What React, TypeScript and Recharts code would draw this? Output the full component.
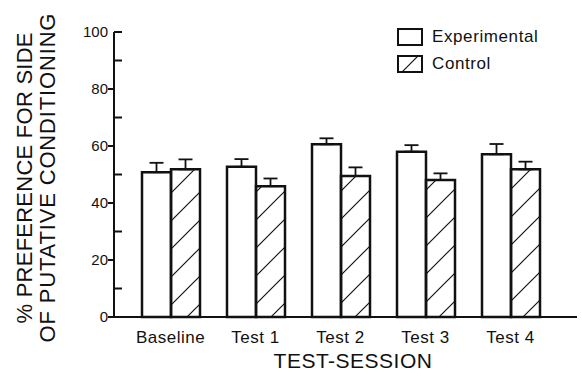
import { BarChart, Bar, XAxis, YAxis, ErrorBar, Legend } from "recharts";

const sessions = ["Baseline", "Test 1", "Test 2", "Test 3", "Test 4"];
const experimental = [50.8, 52.7, 60.6, 58.0, 57.1];
const experimentalErr = [3.3, 2.7, 2.1, 2.3, 3.6];
const control = [51.8, 45.9, 49.5, 48.1, 51.8];
const controlErr = [3.5, 2.7, 3.0, 2.3, 2.7];
const seriesNames = ["Experimental", "Control"];

const majorTicks = [0, 20, 40, 60, 80, 100];
const minorTicks = [10, 30, 50, 70, 90];
const allTicks = [...majorTicks, ...minorTicks].sort((a, b) => a - b);

const data = sessions.map((s, i) => ({
  session: s,
  experimental: experimental[i],
  control: control[i],
  expErr: [0, experimentalErr[i]],
  ctrlErr: [0, controlErr[i]],
}));

const FONT = '"Liberation Sans", Arial, Helvetica, sans-serif';
const INK = "#111";

const YTick = (props: any) => {
  const { x, y, payload } = props;
  const v = payload.value;
  const inward = minorTicks.includes(v) || v === 100;
  return (
    <g>
      {inward ? (
        <line x1={x} x2={x + 8} y1={y} y2={y} stroke={INK} strokeWidth={2} />
      ) : (
        <line x1={x - 6} x2={x} y1={y} y2={y} stroke={INK} strokeWidth={2} />
      )}
      {majorTicks.includes(v) && (
        <text x={x - 6} y={y} dy="0.35em" textAnchor="end" fontSize={15} fontFamily={FONT} fill={INK}>
          {v}
        </text>
      )}
    </g>
  );
};

const YLabel = () => (
  <g fontFamily={FONT} fontSize={22} fill={INK}>
    <text x={32} y={178} transform="rotate(-90, 32, 178)" textAnchor="middle" textLength={291} lengthAdjust="spacing">
      % PREFERENCE FOR SIDE
    </text>
    <text x={55} y={178} transform="rotate(-90, 55, 178)" textAnchor="middle" textLength={329} lengthAdjust="spacing">
      OF PUTATIVE CONDITIONING
    </text>
  </g>
);

const XLabel = () => (
  <text x={353} y={368} textAnchor="middle" fontFamily={FONT} fontSize={21} letterSpacing={0.5} fill={INK}>
    TEST-SESSION
  </text>
);

const renderLegend = (props: any) => {
  const items = [...(props.payload || [])].sort(
    (a: any, b: any) => seriesNames.indexOf(a.value) - seriesNames.indexOf(b.value)
  );
  return (
    <div>
      {items.map((p: any, i: number) => (
        <div key={`leg-${i}`} style={{ display: "flex", alignItems: "center", height: 27 }}>
          <svg width={28} height={20}>
            <rect
              x={2}
              y={2}
              width={24}
              height={16}
              fill={p.dataKey === "control" ? "url(#hatchLegend)" : "#fff"}
              stroke={INK}
              strokeWidth={2}
            />
          </svg>
          <span style={{ marginLeft: 8, fontSize: 17, fontFamily: FONT, color: INK, letterSpacing: 0.6 }}>
            {p.value}
          </span>
        </div>
      ))}
    </div>
  );
};

export default function App() {
  return (
    <div style={{ position: "absolute", left: 0, top: 0, background: "#fff" }}>
      <svg width={0} height={0} style={{ position: "absolute" }}>
        <defs>
          <pattern id="hatch" patternUnits="userSpaceOnUse" width={28} height={28}>
            <path d="M0,28 L28,0 M-7,7 L7,-7 M21,35 L35,21" stroke={INK} strokeWidth={1.2} />
          </pattern>
          <pattern id="hatchLegend" patternUnits="userSpaceOnUse" width={20} height={20} x={4}>
            <path d="M0,20 L20,0 M-5,5 L5,-5 M15,25 L25,15" stroke={INK} strokeWidth={1.2} />
          </pattern>
        </defs>
      </svg>
      <BarChart
        width={582}
        height={379}
        data={data}
        margin={{ top: 32, right: 5, bottom: 32, left: 64 }}
        barGap={0}
        barSize={29}
      >
        <XAxis
          dataKey="session"
          height={30}
          padding={{ left: 14, right: 24 }}
          tickLine={false}
          tickSize={0}
          tickMargin={14}
          axisLine={{ stroke: INK, strokeWidth: 2 }}
          tick={{ fontSize: 17, fontFamily: FONT, fill: INK, letterSpacing: 0.5 }}
          label={{ content: XLabel }}
        />
        <YAxis
          width={50}
          domain={[0, 100]}
          ticks={allTicks}
          interval={0}
          tickLine={false}
          tickSize={0}
          tickMargin={0}
          axisLine={{ stroke: INK, strokeWidth: 2 }}
          tick={YTick}
          label={{ content: YLabel }}
        />
        <Legend
          layout="vertical"
          align="center"
          verticalAlign="middle"
          content={renderLegend}
          wrapperStyle={{ position: "absolute", top: 23, left: 396, width: 180 }}
        />
        <Bar dataKey="experimental" name="Experimental" fill="#fff" stroke={INK} strokeWidth={2.5} isAnimationActive={false}>
          <ErrorBar dataKey="expErr" width={7} stroke={INK} strokeWidth={1.8} direction="y" />
        </Bar>
        <Bar dataKey="control" name="Control" fill="url(#hatch)" stroke={INK} strokeWidth={2.5} isAnimationActive={false}>
          <ErrorBar dataKey="ctrlErr" width={7} stroke={INK} strokeWidth={1.8} direction="y" />
        </Bar>
      </BarChart>
    </div>
  );
}
